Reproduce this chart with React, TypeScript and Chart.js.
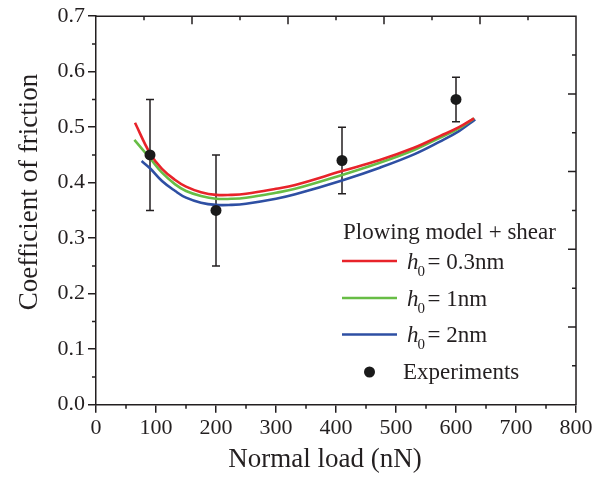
import { useEffect, useRef } from 'react';
import { Chart, registerables } from 'chart.js';
Chart.register(...registerables);

const FONT = '"Liberation Serif", "Times New Roman", serif';
const INK = '#231f20';

const xTickValues = [0, 100, 200, 300, 400, 500, 600, 700, 800];
const yTickValues = [0, 0.1, 0.2, 0.3, 0.4, 0.5, 0.6, 0.7];

const redX = [65, 90, 110, 132, 150, 175, 200, 225, 250, 300, 332, 410, 473, 530, 573, 605, 630];
const redY = [0.508, 0.453, 0.425, 0.405, 0.393, 0.383, 0.378, 0.378, 0.38, 0.389, 0.396, 0.421, 0.441, 0.463, 0.484, 0.5, 0.516];
const greenX = [64, 90, 110, 132, 150, 175, 200, 225, 250, 300, 332, 410, 473, 530, 573, 605, 630];
const greenY = [0.477, 0.444, 0.418, 0.397, 0.385, 0.376, 0.371, 0.371, 0.373, 0.382, 0.389, 0.414, 0.436, 0.459, 0.481, 0.498, 0.516];
const blueX = [76, 90, 110, 132, 150, 175, 200, 225, 250, 300, 332, 410, 473, 530, 573, 605, 632];
const blueY = [0.439, 0.426, 0.403, 0.385, 0.373, 0.364, 0.36, 0.36, 0.362, 0.371, 0.379, 0.404, 0.427, 0.451, 0.474, 0.493, 0.514];

const expX = [90, 200, 410, 600];
const expY = [0.45, 0.35, 0.44, 0.55];
const expErr = [0.1, 0.1, 0.06, 0.04];

const seriesNames = ['0.3nm', '1nm', '2nm'];
const seriesColors = ['#e8232a', '#67bd45', '#2e4fa3'];

const pts = (xs: number[], ys: number[]) => xs.map((x, i) => ({ x, y: ys[i] }));

const decorPlugin = {
  id: 'decor',
  beforeDatasetsDraw(chart: any) {
    const { ctx } = chart;
    const xs = chart.scales.x;
    const ys = chart.scales.y;
    ctx.save();
    ctx.strokeStyle = INK;
    ctx.lineWidth = 1.5;
    expX.forEach((xv, i) => {
      const px = xs.getPixelForValue(xv);
      const top = ys.getPixelForValue(expY[i] + expErr[i]);
      const bot = ys.getPixelForValue(expY[i] - expErr[i]);
      ctx.beginPath();
      ctx.moveTo(px, top);
      ctx.lineTo(px, bot);
      ctx.moveTo(px - 4, top);
      ctx.lineTo(px + 4, top);
      ctx.moveTo(px - 4, bot);
      ctx.lineTo(px + 4, bot);
      ctx.stroke();
    });
    ctx.restore();
  },
  afterDraw(chart: any) {
    const { ctx, chartArea: a } = chart;
    const xs = chart.scales.x;
    const ys = chart.scales.y;
    ctx.save();
    ctx.strokeStyle = INK;
    ctx.lineWidth = 1.5;
    ctx.beginPath();
    ctx.moveTo(a.left, a.top);
    ctx.lineTo(a.right, a.top);
    ctx.lineTo(a.right, a.bottom);
    ctx.stroke();
    ctx.beginPath();
    for (let v = 50; v < 800; v += 100) {
      const px = xs.getPixelForValue(v);
      ctx.moveTo(px, a.bottom);
      ctx.lineTo(px, a.bottom + 4);
    }
    for (let k = 0; k < 7; k++) {
      const py = ys.getPixelForValue(k * 0.1 + 0.05);
      ctx.moveTo(a.left, py);
      ctx.lineTo(a.left - 4, py);
    }
    for (let k = 1; k < 10; k++) {
      const len = k % 2 === 0 ? 8 : 4;
      const px = a.left + (a.right - a.left) * k / 10;
      ctx.moveTo(px, a.top);
      ctx.lineTo(px, a.top + len);
      const py = a.bottom - (a.bottom - a.top) * k / 10;
      ctx.moveTo(a.right, py);
      ctx.lineTo(a.right - len, py);
    }
    ctx.stroke();

    ctx.fillStyle = INK;
    ctx.font = `27px ${FONT}`;
    ctx.textAlign = 'center';
    ctx.textBaseline = 'alphabetic';
    ctx.fillText('Normal load (nN)', 325, 467);
    ctx.save();
    ctx.translate(37, 192);
    ctx.rotate(-Math.PI / 2);
    ctx.fillText('Coefficient of friction', 0, 0);
    ctx.restore();

    ctx.textAlign = 'left';
    ctx.font = `23px ${FONT}`;
    ctx.fillText('Plowing model + shear', 343, 239);
    const rowBase = [268.5, 305.5, 342];
    seriesNames.forEach((name, i) => {
      const b = rowBase[i];
      ctx.strokeStyle = seriesColors[i];
      ctx.lineWidth = 2.5;
      ctx.beginPath();
      ctx.moveTo(342, b - 7.5);
      ctx.lineTo(397, b - 7.5);
      ctx.stroke();
      ctx.fillStyle = INK;
      ctx.font = `italic 23px ${FONT}`;
      ctx.fillText('h', 407, b);
      let x = 407 + ctx.measureText('h').width - 1;
      ctx.font = `15px ${FONT}`;
      ctx.fillText('0', x, b + 7);
      x += ctx.measureText('0').width + 2.5;
      ctx.font = `23px ${FONT}`;
      ctx.fillText('= ' + name, x, b);
    });
    ctx.fillStyle = '#1a1a1a';
    ctx.beginPath();
    ctx.arc(369.5, 372, 5.5, 0, Math.PI * 2);
    ctx.fill();
    ctx.fillStyle = INK;
    ctx.font = `23px ${FONT}`;
    ctx.fillText('Experiments', 403, 378.5);
    ctx.restore();
  },
};

export default function App() {
  const ref = useRef<HTMLCanvasElement | null>(null);
  useEffect(() => {
    if (!ref.current) return;
    const lineDs = (label: string, xs: number[], ys: number[], color: string) => ({
      type: 'line' as const,
      label,
      data: pts(xs, ys),
      borderColor: color,
      backgroundColor: color,
      borderWidth: 2.6,
      pointRadius: 0,
      tension: 0.4,
      fill: false,
      order: 2,
    });
    const chart = new Chart(ref.current, {
      type: 'line',
      data: {
        datasets: [
          lineDs(seriesNames[0], redX, redY, seriesColors[0]),
          lineDs(seriesNames[1], greenX, greenY, seriesColors[1]),
          lineDs(seriesNames[2], blueX, blueY, seriesColors[2]),
          {
            type: 'scatter' as const,
            label: 'Experiments',
            data: pts(expX, expY),
            showLine: false,
            pointRadius: 5.5,
            pointBackgroundColor: '#1a1a1a',
            pointBorderWidth: 0,
            order: 0,
          } as any,
        ],
      },
      options: {
        animation: false,
        responsive: false,
        maintainAspectRatio: false,
        layout: { padding: { left: 0, right: 29, top: 13, bottom: 0 } },
        plugins: { legend: { display: false }, tooltip: { enabled: false } },
        scales: {
          x: {
            type: 'linear',
            min: 0,
            max: 800,
            afterBuildTicks: (s: any) => { s.ticks = xTickValues.map((v) => ({ value: v })); },
            ticks: { font: { family: FONT, size: 22 }, color: INK, padding: 2, maxRotation: 0, autoSkip: false },
            grid: { display: true, drawOnChartArea: false, drawTicks: true, tickLength: 8, color: INK, lineWidth: 1.5 },
            border: { display: true, color: INK, width: 1.5 },
            afterFit: (s: any) => { s.height = 73.3; },
          },
          y: {
            type: 'linear',
            min: 0,
            max: 0.7,
            afterBuildTicks: (s: any) => { s.ticks = yTickValues.map((v) => ({ value: v })); },
            ticks: { font: { family: FONT, size: 22 }, color: INK, padding: 3, autoSkip: false, callback: (v: any) => Number(v).toFixed(1) },
            grid: { display: true, drawOnChartArea: false, drawTicks: true, tickLength: 8, color: INK, lineWidth: 1.5 },
            border: { display: true, color: INK, width: 1.5 },
            afterFit: (s: any) => { s.width = 96; },
          },
        },
      },
      plugins: [decorPlugin],
    } as any);
    return () => chart.destroy();
  }, []);
  return (
    <div style={{ position: 'absolute', left: 0, top: 0, width: 605, height: 478, background: '#fff' }}>
      <canvas ref={ref} width={605} height={478} style={{ width: 605, height: 478 }} />
    </div>
  );
}
